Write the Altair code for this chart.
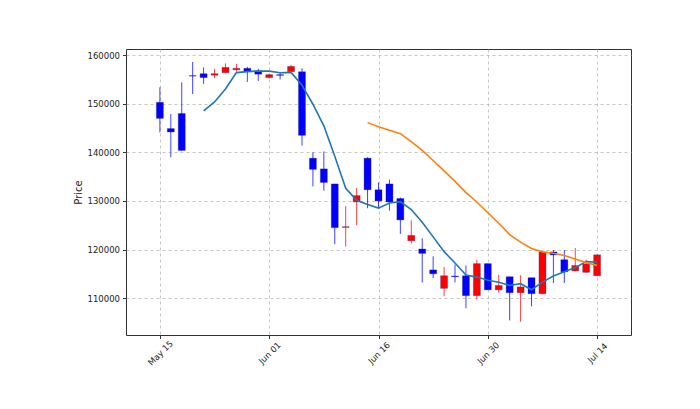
import altair as alt
import pandas as pd

idx = list(range(41))
opens = [150300, 144900, 148000, 155800, 156200, 155900, 156400, 157000, 157300, 156800,
         155400, 156000, 156600, 156600, 138800, 136600, 133500, 124550, 129800, 138800,
         132300, 133500, 130500, 121800, 120100, 115800, 112000, 114550, 114600, 110500,
         117100, 111700, 114400, 111100, 114200, 110900, 119500, 117900, 115600, 115300,
         114600]
highs = [153400, 147900, 154400, 158600, 157500, 157200, 158300, 158200, 157600, 157200,
         156200, 156500, 158000, 157300, 140000, 140200, 133500, 128900, 132700, 139000,
         133800, 134400, 130700, 126000, 122300, 118600, 116400, 116900, 116700, 117900,
         117100, 114800, 114400, 114700, 114200, 119600, 119900, 119900, 120300, 117900,
         119000]
lows = [144100, 139000, 140300, 152000, 154100, 155300, 156300, 156600, 154500, 154700,
        155200, 155000, 156500, 141400, 133000, 132100, 121100, 120600, 125000, 128500,
        128500, 128000, 123200, 121200, 113200, 114100, 110400, 113200, 107900, 109700,
        111700, 111100, 105400, 105100, 108300, 110800, 113100, 113100, 115500, 115200,
        114500]
closes = [147000, 144200, 140400, 155700, 155400, 156200, 157500, 157300, 156700, 156100,
          156000, 155850, 157700, 143500, 136500, 133800, 124500, 124700, 131100, 132300,
          130000, 129800, 126100, 122900, 119200, 115000, 114600, 114400, 110500, 117100,
          111700, 112600, 111100, 112300, 110900, 119500, 118900, 115400, 116700, 117000,
          118900]

tick_values = [0, 10, 20, 30, 40]
tick_labels = ["May 15", "Jun 01", "Jun 16", "Jun 30", "Jul 14"]
y_ticks = [110000, 120000, 130000, 140000, 150000, 160000]

df = pd.DataFrame({"idx": idx, "open": opens, "high": highs, "low": lows, "close": closes})
df["dir"] = ["up" if c >= o else "down" for o, c in zip(opens, closes)]

label_expr = " : ".join(
    [f"datum.value == {v} ? '{l}'" for v, l in zip(tick_values, tick_labels)] + ["''"]
)

xscale = alt.Scale(domain=[-3.1, 43.1], nice=False, zero=False, padding=0)
yscale = alt.Scale(domain=[102400, 161280], nice=False, zero=False, padding=0)

xaxis = alt.Axis(values=tick_values, labelExpr=label_expr, title=None, labelAngle=-45,
                 labelAlign="center", labelBaseline="middle", labelPadding=14,
                 tickSize=3.5, grid=True)
yaxis = alt.Axis(values=y_ticks, format="d", title="Price", tickSize=3.5, labelPadding=3,
                 titlePadding=4, grid=True)

color = alt.Color("dir:N", scale=alt.Scale(domain=["up", "down"], range=["#ff0000", "#0000ff"]),
                  legend=None)

base = alt.Chart(df)

wick = base.mark_rule(strokeWidth=1, opacity=0.75).encode(
    x=alt.X("idx:Q", scale=xscale, axis=xaxis),
    y=alt.Y("low:Q", scale=yscale, axis=yaxis),
    y2="high:Q",
    color=color,
)

body = base.mark_bar(size=7, stroke="#202080", strokeWidth=0.3).encode(
    x=alt.X("idx:Q", scale=xscale),
    y=alt.Y("open:Q", scale=yscale),
    y2="close:Q",
    color=color,
)

ma5 = base.transform_window(
    ma="mean(close)", cnt="count()", frame=[-4, 0], sort=[alt.SortField("idx")]
).transform_filter("datum.cnt == 5").mark_line(color="#1f77b4", strokeWidth=1.6).encode(
    x=alt.X("idx:Q", scale=xscale),
    y=alt.Y("ma:Q", scale=yscale),
)

ma20 = base.transform_window(
    ma="mean(close)", cnt="count()", frame=[-19, 0], sort=[alt.SortField("idx")]
).transform_filter("datum.cnt == 20").mark_line(color="#ff7f0e", strokeWidth=1.6).encode(
    x=alt.X("idx:Q", scale=xscale),
    y=alt.Y("ma:Q", scale=yscale),
)

chart = alt.layer(wick, body, ma5, ma20).properties(
    width=505, height=286,
    autosize=alt.AutoSizeParams(type="none"),
    padding={"left": 118, "top": 41, "right": 60, "bottom": 60},
).configure_view(
    stroke="#333333", strokeWidth=1
).configure_scale(
    continuousPadding=0
).configure_axis(
    gridDash=[3, 3], gridColor="#b8b8b8", gridWidth=0.8,
    domain=False, tickColor="#333333",
    labelFont="DejaVu Sans", labelFontSize=8.5, labelColor="#222222",
    titleFont="DejaVu Sans", titleFontSize=10, titleFontWeight="normal", titleColor="#222222",
)

chart.save("out.html", embed_options={"renderer": "svg", "actions": False})
